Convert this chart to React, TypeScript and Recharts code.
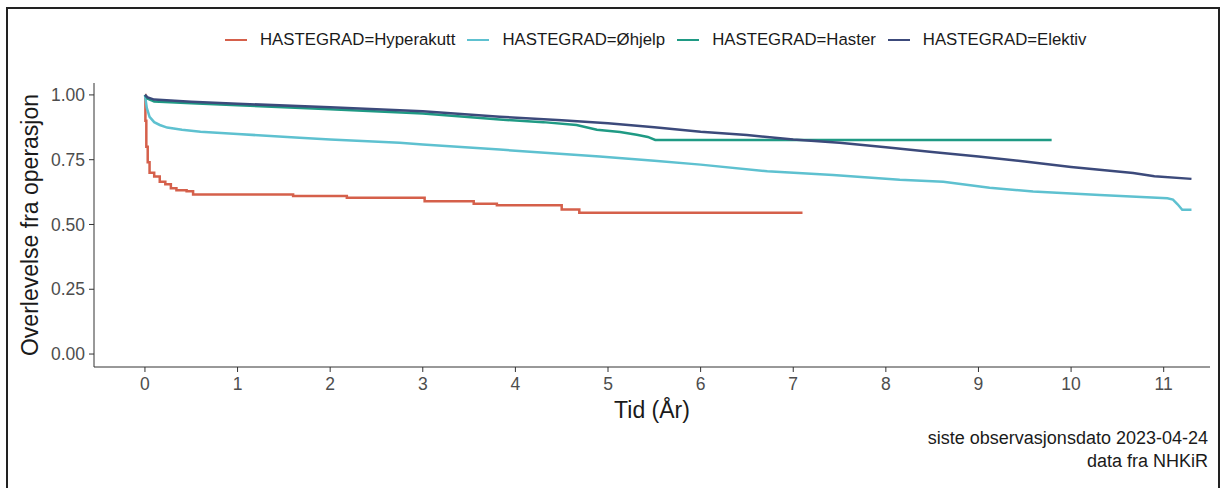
import { LineChart, Line, XAxis, YAxis, Legend } from "recharts";

const FONT = "'Liberation Sans', Arial, Helvetica, sans-serif";

// Hyperakutt
const hyperTid = [0, 0.005, 0.015, 0.03, 0.05, 0.1, 0.16, 0.22, 0.28, 0.34, 0.45, 0.52, 1.6, 2.18, 3.02, 3.55, 3.8, 4.5, 4.69, 7.1];
const hyperSurv = [1.0, 0.9, 0.8, 0.74, 0.7, 0.685, 0.665, 0.655, 0.64, 0.632, 0.628, 0.616, 0.61, 0.603, 0.59, 0.58, 0.574, 0.558, 0.545, 0.545];

// Øhjelp
const ohjelpTid = [0, 0.02, 0.05, 0.1, 0.16, 0.24, 0.4, 0.6, 1, 1.67, 2, 2.75, 3, 3.83, 4, 4.91, 5.5, 6, 6.72, 7.43, 8.15, 8.62, 9.12, 9.59, 10.31, 11.04, 11.1, 11.15, 11.2, 11.3];
const ohjelpSurv = [1.0, 0.95, 0.915, 0.895, 0.884, 0.874, 0.866, 0.858, 0.849, 0.835, 0.828, 0.815, 0.809, 0.789, 0.785, 0.762, 0.746, 0.731, 0.705, 0.691, 0.673, 0.665, 0.642, 0.627, 0.614, 0.601, 0.596, 0.578, 0.557, 0.557];

// Haster
const hasterTid = [0, 0.03, 0.1, 0.5, 1, 2, 3, 3.83, 4.3, 4.66, 4.88, 5.13, 5.31, 5.43, 5.51, 9.79];
const hasterSurv = [1.0, 0.985, 0.975, 0.968, 0.96, 0.945, 0.928, 0.905, 0.895, 0.884, 0.866, 0.857, 0.846, 0.838, 0.826, 0.826];

// Elektiv
const elektivTid = [0, 0.03, 0.1, 0.5, 1, 2, 3, 3.83, 4.5, 5, 5.5, 6, 6.5, 7, 7.5, 8, 8.5, 9, 9.5, 10, 10.67, 10.9, 11.3];
const elektivSurv = [1.0, 0.99, 0.982, 0.974, 0.966, 0.952, 0.937, 0.916, 0.902, 0.891, 0.875, 0.858, 0.845, 0.828, 0.815, 0.798, 0.78, 0.762, 0.743, 0.722, 0.699, 0.686, 0.676];

const xTicks = [0, 1, 2, 3, 4, 5, 6, 7, 8, 9, 10, 11];
const yTicks = [0, 0.25, 0.5, 0.75, 1];

const zip = (t: number[], s: number[]) => t.map((x, i) => ({ tid: x, surv: s[i] }));

const series = [
  { name: "HASTEGRAD=Hyperakutt", data: zip(hyperTid, hyperSurv), color: "#d5604b", type: "stepAfter" },
  { name: "HASTEGRAD=Øhjelp", data: zip(ohjelpTid, ohjelpSurv), color: "#5ec1d0", type: "linear" },
  { name: "HASTEGRAD=Haster", data: zip(hasterTid, hasterSurv), color: "#1f9a84", type: "linear" },
  { name: "HASTEGRAD=Elektiv", data: zip(elektivTid, elektivSurv), color: "#3c4a7b", type: "linear" },
];

// legend in the same order as the series (recharts sorts by name otherwise)
const renderLegend = () => (
  <div
    style={{
      height: 57,
      display: "flex",
      alignItems: "flex-start",
      paddingLeft: 225,
      paddingTop: 4,
      fontFamily: FONT,
      fontSize: 16.8,
      color: "#1a1a1a",
      boxSizing: "border-box",
    }}
  >
    {series.map((s) => (
      <div key={s.name} style={{ display: "flex", alignItems: "center", marginRight: 12 }}>
        <div style={{ width: 22, height: 2.5, background: s.color, marginRight: 13 }} />
        <span>{s.name}</span>
      </div>
    ))}
  </div>
);

export default function App() {
  return (
    <div style={{ position: "fixed", left: 0, top: 0, width: 1221, height: 488, background: "#fff", overflow: "hidden" }}>
      <div
        style={{
          position: "absolute",
          left: 6,
          top: 7,
          width: 1214,
          height: 495,
          border: "2.5px solid #222",
          boxSizing: "border-box",
        }}
      />
      <div style={{ position: "absolute", left: 0, top: 0 }}>
        <LineChart width={1221} height={488} margin={{ top: 26, right: 11, bottom: 91, left: 34 }}>
          <Legend
            verticalAlign="top"
            align="left"
            content={renderLegend}
            wrapperStyle={{ left: 0, width: 1221 }}
          />
          <XAxis
            type="number"
            dataKey="tid"
            domain={[-0.55, 11.5]}
            ticks={xTicks}
            allowDataOverflow
            height={30}
            tickSize={5}
            tickMargin={6}
            stroke="#333"
            tick={{ fill: "#4d4d4d", fontSize: 17.5, fontFamily: FONT }}
            label={{
              content: () => (
                <text x={652} y={418} textAnchor="middle" fontFamily={FONT} fontSize={23} fill="#1a1a1a">
                  Tid (År)
                </text>
              ),
            }}
          />
          <YAxis
            type="number"
            dataKey="surv"
            domain={[-0.05, 1.046]}
            ticks={yTicks}
            allowDataOverflow
            width={60}
            tickSize={5}
            tickMargin={4}
            stroke="#333"
            tickFormatter={(v: number) => v.toFixed(2)}
            tick={{ fill: "#4d4d4d", fontSize: 17.5, fontFamily: FONT }}
            label={{
              content: () => (
                <text
                  x={38}
                  y={225}
                  textAnchor="middle"
                  transform="rotate(-90 38 225)"
                  fontFamily={FONT}
                  fontSize={23}
                  fill="#1a1a1a"
                >
                  Overlevelse fra operasjon
                </text>
              ),
            }}
          />
          {series.map((s) => (
            <Line
              key={s.name}
              name={s.name}
              data={s.data}
              dataKey="surv"
              type={s.type as any}
              stroke={s.color}
              strokeWidth={2.5}
              dot={false}
              activeDot={false}
              isAnimationActive={false}
            />
          ))}
        </LineChart>
      </div>
      <div
        style={{
          position: "absolute",
          right: 13,
          top: 427,
          textAlign: "right",
          fontFamily: FONT,
          fontSize: 18,
          lineHeight: "23px",
          color: "#1a1a1a",
        }}
      >
        siste observasjonsdato 2023-04-24
        <br />
        data fra NHKiR
      </div>
    </div>
  );
}
